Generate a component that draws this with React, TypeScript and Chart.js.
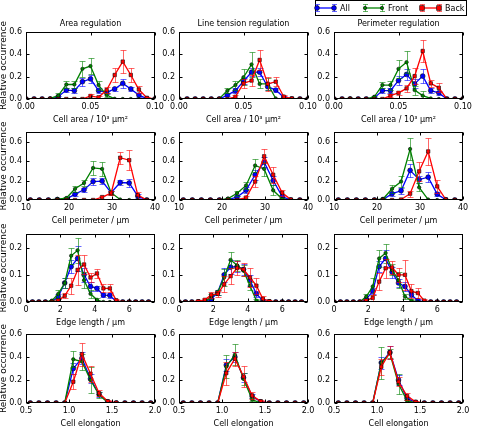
import React, { useEffect, useRef } from "react";
import { Chart, registerables } from "chart.js";

Chart.register(...registerables);

// ---- Bin positions of the histograms ----
const cellAreaBins = [0, 0.00625, 0.0125, 0.01875, 0.025, 0.03125, 0.0375, 0.04375, 0.05, 0.05625, 0.0625, 0.06875, 0.075, 0.08125, 0.0875, 0.09375, 0.1];
const cellPerimeterBins = [11.0, 13.1, 15.2, 17.3, 19.4, 21.4, 23.5, 25.6, 27.7, 29.8, 31.9, 34.0, 36.0, 38.1];
const edgeLengthBins = [0, 0.375, 0.75, 1.125, 1.5, 1.875, 2.25, 2.625, 3.0, 3.375, 3.75, 4.125, 4.5, 4.875, 5.25, 5.625, 6.0, 6.375, 6.75, 7.125];
const elongationBins = [0.55, 0.65, 0.75, 0.85, 0.95, 1.05, 1.15, 1.25, 1.35, 1.45, 1.55, 1.65, 1.75, 1.85, 1.95];

// ---- Cell area ----
const areaAreaRegAll = [0, 0, 0, 0, 0.02, 0.08, 0.075, 0.155, 0.18, 0.075, 0.06, 0.09, 0.14, 0.09, 0.035, 0.003, 0];
const areaAreaRegAllErr = [0, 0, 0, 0, 0.01, 0.02, 0.02, 0.035, 0.035, 0.02, 0.015, 0.02, 0.04, 0.02, 0.015, 0.003, 0];
const areaAreaRegFront = [0, 0, 0, 0.005, 0.03, 0.13, 0.13, 0.27, 0.295, 0.125, 0.035, 0.002, 0, 0, 0, 0, 0];
const areaAreaRegFrontErr = [0, 0, 0, 0.005, 0.02, 0.035, 0.03, 0.07, 0.075, 0.04, 0.02, 0.002, 0, 0, 0, 0, 0];
const areaAreaRegBack = [0, 0, 0, 0, 0, 0, 0, 0, 0.027, 0.015, 0.08, 0.215, 0.335, 0.215, 0.085, 0.01, 0];
const areaAreaRegBackErr = [0, 0, 0, 0, 0, 0, 0, 0, 0.015, 0.01, 0.025, 0.065, 0.1, 0.065, 0.03, 0.008, 0];

const areaTensionRegAll = [0, 0, 0, 0, 0, 0, 0.035, 0.075, 0.16, 0.24, 0.24, 0.11, 0.08, 0.015, 0, 0, 0];
const areaTensionRegAllErr = [0, 0, 0, 0, 0, 0, 0.01, 0.02, 0.03, 0.035, 0.035, 0.03, 0.02, 0.008, 0, 0, 0];
const areaTensionRegFront = [0, 0, 0, 0, 0, 0.003, 0.075, 0.125, 0.195, 0.31, 0.135, 0.135, 0.005, 0, 0, 0, 0];
const areaTensionRegFrontErr = [0, 0, 0, 0, 0, 0.003, 0.02, 0.04, 0.07, 0.11, 0.04, 0.05, 0.005, 0, 0, 0, 0];
const areaTensionRegBack = [0, 0, 0, 0, 0, 0, 0, 0.02, 0.14, 0.165, 0.35, 0.135, 0.155, 0.02, 0.005, 0, 0];
const areaTensionRegBackErr = [0, 0, 0, 0, 0, 0, 0, 0.02, 0.04, 0.05, 0.09, 0.06, 0.04, 0.015, 0.005, 0, 0];

const areaPerimRegAll = [0, 0, 0, 0, 0, 0.01, 0.075, 0.075, 0.165, 0.22, 0.135, 0.205, 0.075, 0.055, 0, 0, 0];
const areaPerimRegAllErr = [0, 0, 0, 0, 0, 0.005, 0.02, 0.02, 0.04, 0.05, 0.04, 0.06, 0.02, 0.02, 0, 0, 0];
const areaPerimRegFront = [0, 0, 0.005, 0, 0, 0.02, 0.125, 0.125, 0.27, 0.33, 0.08, 0.03, 0.005, 0, 0, 0, 0];
const areaPerimRegFrontErr = [0, 0, 0.005, 0, 0, 0.01, 0.03, 0.04, 0.08, 0.1, 0.04, 0.04, 0.005, 0, 0, 0, 0];
const areaPerimRegBack = [0, 0, 0, 0, 0, 0, 0, 0.03, 0.055, 0.095, 0.205, 0.43, 0.14, 0.1, 0, 0, 0];
const areaPerimRegBackErr = [0, 0, 0, 0, 0, 0, 0, 0.015, 0.02, 0.03, 0.07, 0.1, 0.03, 0.04, 0, 0, 0];

// ---- Cell perimeter ----
const perimAreaRegAll = [0, 0, 0, 0.005, 0.01, 0.06, 0.105, 0.19, 0.195, 0.075, 0.18, 0.175, 0.04, 0];
const perimAreaRegAllErr = [0, 0, 0, 0.005, 0.005, 0.015, 0.02, 0.035, 0.03, 0.02, 0.025, 0.04, 0.02, 0];
const perimAreaRegFront = [0, 0, 0, 0.01, 0.02, 0.115, 0.175, 0.33, 0.32, 0.075, 0.005, 0, 0, 0];
const perimAreaRegFrontErr = [0, 0, 0, 0.005, 0.01, 0.03, 0.03, 0.07, 0.075, 0.02, 0.005, 0, 0, 0];
const perimAreaRegBack = [0, 0, 0, 0, 0, 0, 0, 0, 0.03, 0.07, 0.435, 0.41, 0.05, 0];
const perimAreaRegBackErr = [0, 0, 0, 0, 0, 0, 0, 0, 0.015, 0.02, 0.06, 0.1, 0.035, 0];

const perimTensionRegAll = [0, 0, 0, 0, 0, 0.005, 0.03, 0.1, 0.26, 0.39, 0.2, 0.035, 0, 0];
const perimTensionRegAllErr = [0, 0, 0, 0, 0, 0.005, 0.01, 0.03, 0.05, 0.05, 0.05, 0.015, 0, 0];
const perimTensionRegFront = [0, 0, 0, 0, 0, 0.015, 0.07, 0.15, 0.355, 0.32, 0.1, 0.01, 0, 0];
const perimTensionRegFrontErr = [0, 0, 0, 0, 0, 0.01, 0.025, 0.04, 0.07, 0.07, 0.05, 0.01, 0, 0];
const perimTensionRegBack = [0, 0, 0, 0, 0, 0, 0, 0.025, 0.19, 0.45, 0.26, 0.075, 0.005, 0];
const perimTensionRegBackErr = [0, 0, 0, 0, 0, 0, 0, 0.015, 0.06, 0.07, 0.08, 0.03, 0.005, 0];

const perimPerimRegAll = [0, 0, 0, 0, 0, 0.005, 0.065, 0.095, 0.305, 0.21, 0.235, 0.06, 0.003, 0];
const perimPerimRegAllErr = [0, 0, 0, 0, 0, 0.005, 0.02, 0.03, 0.07, 0.04, 0.05, 0.02, 0.003, 0];
const perimPerimRegFront = [0, 0, 0, 0, 0.003, 0.01, 0.115, 0.19, 0.525, 0.13, 0.005, 0, 0, 0];
const perimPerimRegFrontErr = [0, 0, 0, 0, 0.003, 0.01, 0.04, 0.06, 0.11, 0.04, 0.005, 0, 0, 0];
const perimPerimRegBack = [0, 0, 0, 0, 0, 0, 0, 0.005, 0.065, 0.295, 0.5, 0.14, 0.005, 0];
const perimPerimRegBackErr = [0, 0, 0, 0, 0, 0, 0, 0.005, 0.03, 0.1, 0.14, 0.07, 0.005, 0];

// ---- Edge length ----
const edgeAreaRegAll = [0, 0, 0, 0, 0, 0.02, 0.07, 0.13, 0.16, 0.1, 0.057, 0.05, 0.025, 0.024, 0.002, 0, 0, 0, 0, 0];
const edgeAreaRegAllErr = [0, 0, 0, 0, 0, 0.01, 0.02, 0.025, 0.045, 0.025, 0.015, 0.01, 0.008, 0.008, 0.003, 0, 0, 0, 0, 0];
const edgeAreaRegFront = [0, 0, 0, 0, 0.005, 0.03, 0.07, 0.17, 0.19, 0.08, 0.03, 0.008, 0, 0, 0, 0, 0, 0, 0, 0];
const edgeAreaRegFrontErr = [0, 0, 0, 0, 0.003, 0.015, 0.02, 0.03, 0.045, 0.03, 0.015, 0.005, 0, 0, 0, 0, 0, 0, 0, 0];
const edgeAreaRegBack = [0, 0, 0, 0, 0, 0.005, 0.023, 0.06, 0.118, 0.138, 0.09, 0.105, 0.05, 0.05, 0.006, 0, 0, 0, 0, 0];
const edgeAreaRegBackErr = [0, 0, 0, 0, 0, 0.005, 0.01, 0.03, 0.055, 0.035, 0.015, 0.015, 0.015, 0.015, 0.005, 0, 0, 0, 0, 0];

const edgeTensionRegAll = [0, 0, 0, 0, 0.002, 0.01, 0.035, 0.1, 0.128, 0.13, 0.12, 0.08, 0.03, 0.005, 0, 0, 0, 0, 0, 0];
const edgeTensionRegAllErr = [0, 0, 0, 0, 0.002, 0.005, 0.01, 0.025, 0.025, 0.02, 0.02, 0.02, 0.01, 0.005, 0, 0, 0, 0, 0, 0];
const edgeTensionRegFront = [0, 0, 0, 0, 0, 0.02, 0.035, 0.09, 0.155, 0.135, 0.115, 0.06, 0.005, 0, 0, 0, 0, 0, 0, 0];
const edgeTensionRegFrontErr = [0, 0, 0, 0, 0, 0.01, 0.01, 0.03, 0.03, 0.02, 0.02, 0.015, 0.005, 0, 0, 0, 0, 0, 0, 0];
const edgeTensionRegBack = [0, 0, 0, 0.003, 0.008, 0.026, 0.03, 0.065, 0.095, 0.125, 0.12, 0.09, 0.06, 0.012, 0.003, 0, 0, 0, 0, 0];
const edgeTensionRegBackErr = [0, 0, 0, 0.003, 0.005, 0.01, 0.01, 0.03, 0.03, 0.025, 0.025, 0.035, 0.03, 0.01, 0.003, 0, 0, 0, 0, 0];

const edgePerimRegAll = [0, 0, 0, 0, 0, 0.01, 0.04, 0.13, 0.16, 0.11, 0.07, 0.057, 0.027, 0.005, 0, 0, 0, 0, 0, 0];
const edgePerimRegAllErr = [0, 0, 0, 0, 0, 0.005, 0.01, 0.02, 0.03, 0.02, 0.015, 0.015, 0.01, 0.005, 0, 0, 0, 0, 0, 0];
const edgePerimRegFront = [0, 0, 0, 0, 0, 0.02, 0.057, 0.16, 0.18, 0.118, 0.08, 0.02, 0.005, 0, 0, 0, 0, 0, 0, 0];
const edgePerimRegFrontErr = [0, 0, 0, 0, 0, 0.01, 0.03, 0.03, 0.035, 0.02, 0.03, 0.01, 0.005, 0, 0, 0, 0, 0, 0, 0];
const edgePerimRegBack = [0, 0, 0, 0, 0, 0.005, 0.015, 0.075, 0.124, 0.127, 0.1, 0.1, 0.04, 0.033, 0.005, 0, 0, 0, 0, 0];
const edgePerimRegBackErr = [0, 0, 0, 0, 0, 0.005, 0.01, 0.03, 0.035, 0.025, 0.025, 0.055, 0.025, 0.02, 0.005, 0, 0, 0, 0, 0];

// ---- Cell elongation ----
const elongAreaRegAll = [0, 0, 0, 0, 0, 0.3, 0.39, 0.21, 0.075, 0.01, 0, 0, 0, 0, 0];
const elongAreaRegAllErr = [0, 0, 0, 0, 0, 0.05, 0.05, 0.04, 0.02, 0.008, 0, 0, 0, 0, 0];
const elongAreaRegFront = [0, 0, 0, 0, 0, 0.38, 0.36, 0.2, 0.07, 0.005, 0, 0, 0, 0, 0];
const elongAreaRegFrontErr = [0, 0, 0, 0, 0, 0.07, 0.07, 0.11, 0.03, 0.005, 0, 0, 0, 0, 0];
const elongAreaRegBack = [0, 0, 0, 0, 0, 0.185, 0.425, 0.255, 0.085, 0.015, 0.003, 0, 0, 0, 0];
const elongAreaRegBackErr = [0, 0, 0, 0, 0, 0.065, 0.1, 0.07, 0.025, 0.01, 0.003, 0, 0, 0, 0];

const elongTensionRegAll = [0, 0, 0, 0, 0, 0.33, 0.4, 0.22, 0.06, 0.01, 0, 0, 0, 0, 0];
const elongTensionRegAllErr = [0, 0, 0, 0, 0, 0.05, 0.04, 0.04, 0.02, 0.005, 0, 0, 0, 0, 0];
const elongTensionRegFront = [0, 0, 0, 0, 0, 0.315, 0.42, 0.21, 0.03, 0, 0, 0, 0, 0, 0];
const elongTensionRegFrontErr = [0, 0, 0, 0, 0, 0.1, 0.09, 0.05, 0.015, 0, 0, 0, 0, 0, 0];
const elongTensionRegBack = [0, 0, 0, 0, 0, 0.26, 0.385, 0.23, 0.065, 0.015, 0, 0, 0, 0, 0];
const elongTensionRegBackErr = [0, 0, 0, 0, 0, 0.1, 0.06, 0.09, 0.03, 0.01, 0, 0, 0, 0, 0];

const elongPerimRegAll = [0, 0, 0, 0, 0, 0.35, 0.44, 0.2, 0.04, 0.005, 0, 0, 0, 0, 0];
const elongPerimRegAllErr = [0, 0, 0, 0, 0, 0.05, 0.06, 0.04, 0.015, 0.005, 0, 0, 0, 0, 0];
const elongPerimRegFront = [0, 0, 0, 0, 0, 0.35, 0.43, 0.165, 0.02, 0, 0, 0, 0, 0, 0];
const elongPerimRegFrontErr = [0, 0, 0, 0, 0, 0.14, 0.04, 0.09, 0.01, 0, 0, 0, 0, 0, 0];
const elongPerimRegBack = [0, 0, 0, 0, 0, 0.315, 0.44, 0.185, 0.06, 0.01, 0, 0, 0, 0, 0];
const elongPerimRegBackErr = [0, 0, 0, 0, 0, 0.07, 0.06, 0.04, 0.03, 0.005, 0, 0, 0, 0, 0];

// ---- Labels ----
const regulationTitles = ["Area regulation", "Line tension regulation", "Perimeter regulation"];
const quantityLabels = ["Cell area / 10³ μm²", "Cell perimeter / μm", "Edge length / μm", "Cell elongation"];
const yAxisLabel = "Relative occurrence";
const groupNames = ["All", "Front", "Back"];

// ---- Axis ranges per row ----
const xMins = [0, 10, 0, 0.5];
const xMaxs = [0.1, 40, 7.5, 2.0];
const xSteps = [0.05, 10, 2, 0.5];
const xDecimals = [2, 0, 0, 1];
const yMaxs = [0.6, 0.7, 0.25, 0.6];
const ySteps = [0.2, 0.2, 0.1, 0.2];

const rowBins = [cellAreaBins, cellPerimeterBins, edgeLengthBins, elongationBins];

// [row][col] -> [[values, errors] for All, Front, Back]
const panelSeries: number[][][][][] = [
  [
    [[areaAreaRegAll, areaAreaRegAllErr], [areaAreaRegFront, areaAreaRegFrontErr], [areaAreaRegBack, areaAreaRegBackErr]],
    [[areaTensionRegAll, areaTensionRegAllErr], [areaTensionRegFront, areaTensionRegFrontErr], [areaTensionRegBack, areaTensionRegBackErr]],
    [[areaPerimRegAll, areaPerimRegAllErr], [areaPerimRegFront, areaPerimRegFrontErr], [areaPerimRegBack, areaPerimRegBackErr]],
  ],
  [
    [[perimAreaRegAll, perimAreaRegAllErr], [perimAreaRegFront, perimAreaRegFrontErr], [perimAreaRegBack, perimAreaRegBackErr]],
    [[perimTensionRegAll, perimTensionRegAllErr], [perimTensionRegFront, perimTensionRegFrontErr], [perimTensionRegBack, perimTensionRegBackErr]],
    [[perimPerimRegAll, perimPerimRegAllErr], [perimPerimRegFront, perimPerimRegFrontErr], [perimPerimRegBack, perimPerimRegBackErr]],
  ],
  [
    [[edgeAreaRegAll, edgeAreaRegAllErr], [edgeAreaRegFront, edgeAreaRegFrontErr], [edgeAreaRegBack, edgeAreaRegBackErr]],
    [[edgeTensionRegAll, edgeTensionRegAllErr], [edgeTensionRegFront, edgeTensionRegFrontErr], [edgeTensionRegBack, edgeTensionRegBackErr]],
    [[edgePerimRegAll, edgePerimRegAllErr], [edgePerimRegFront, edgePerimRegFrontErr], [edgePerimRegBack, edgePerimRegBackErr]],
  ],
  [
    [[elongAreaRegAll, elongAreaRegAllErr], [elongAreaRegFront, elongAreaRegFrontErr], [elongAreaRegBack, elongAreaRegBackErr]],
    [[elongTensionRegAll, elongTensionRegAllErr], [elongTensionRegFront, elongTensionRegFrontErr], [elongTensionRegBack, elongTensionRegBackErr]],
    [[elongPerimRegAll, elongPerimRegAllErr], [elongPerimRegFront, elongPerimRegFrontErr], [elongPerimRegBack, elongPerimRegBackErr]],
  ],
];

// ---- Styling ----
const FONT = "'DejaVu Sans', 'Liberation Sans', sans-serif";
const groupColors = ["#0000ff", "#008000", "#ff0000"];
const groupErrorColors = ["rgba(0,0,255,0.6)", "rgba(0,128,0,0.6)", "rgba(255,0,0,0.6)"];
const groupMarkers = ["circle", "circle", "rect"];
const groupMarkerRadius = [2.4, 1.7, 2.4];

// Layout of the grid (page pixels)
const plotLefts = [26, 179, 334];
const plotTops = [32, 132, 234, 334];
const plotHeights = [67, 68, 68, 69];
const PLOT_W = 129;
const TITLE_H = 13;
const XAXIS_H = 26;
const RIGHT_PAD = 12;
const yAxisWidths = [26, 24, 24];

Chart.defaults.font.family = FONT;
Chart.defaults.font.size = 8;
Chart.defaults.color = "#000";

// Vertical error bars with caps, drawn through the chart's own y scale
const errorBarPlugin = {
  id: "errorBars",
  afterDatasetDraw(chart: any, args: any) {
    const ds = chart.data.datasets[args.index];
    const errs: number[] | undefined = ds.errors;
    if (!errs) return;
    const ys = chart.scales.y;
    const a = chart.chartArea;
    const ctx = chart.ctx;
    ctx.save();
    ctx.beginPath();
    ctx.rect(a.left, a.top, a.right - a.left, a.bottom - a.top);
    ctx.clip();
    ctx.strokeStyle = ds.errorColor;
    ctx.lineWidth = 1;
    ctx.beginPath();
    args.meta.data.forEach((pt: any, k: number) => {
      const e = errs[k];
      if (!e) return;
      const v = ds.data[k].y;
      const cx = Math.round(pt.x) + 0.5;
      const lo = Math.round(ys.getPixelForValue(v - e)) + 0.5;
      const hi = Math.round(ys.getPixelForValue(v + e)) + 0.5;
      ctx.moveTo(cx, lo);
      ctx.lineTo(cx, hi);
      ctx.moveTo(cx - 3, lo);
      ctx.lineTo(cx + 3, lo);
      ctx.moveTo(cx - 3, hi);
      ctx.lineTo(cx + 3, hi);
    });
    ctx.stroke();
    ctx.restore();
  },
};

// Box frame with inward ticks on all four sides
const framePlugin = {
  id: "frame",
  afterDatasetsDraw(chart: any) {
    const { ctx, chartArea: a, scales } = chart;
    const l = Math.round(a.left) + 0.5;
    const r = Math.round(a.right) - 0.5;
    const t = Math.round(a.top) + 0.5;
    const b = Math.round(a.bottom) - 0.5;
    ctx.save();
    ctx.strokeStyle = "#000";
    ctx.lineWidth = 1;
    ctx.strokeRect(l, t, r - l, b - t);
    ctx.beginPath();
    scales.x.ticks.forEach((tk: any) => {
      const px = Math.round(scales.x.getPixelForValue(tk.value)) + 0.5;
      ctx.moveTo(px, b);
      ctx.lineTo(px, b - 3);
      ctx.moveTo(px, t);
      ctx.lineTo(px, t + 3);
    });
    scales.y.ticks.forEach((tk: any) => {
      const py = Math.round(scales.y.getPixelForValue(tk.value)) + 0.5;
      ctx.moveTo(l, py);
      ctx.lineTo(l + 3, py);
      ctx.moveTo(r, py);
      ctx.lineTo(r - 3, py);
    });
    ctx.stroke();
    ctx.restore();
  },
};

// Panel heading centred over the plotting area
function makeTitlePlugin(text: string) {
  return {
    id: "panelTitle",
    afterDraw(chart: any) {
      const { ctx, chartArea: a } = chart;
      ctx.save();
      ctx.fillStyle = "#000";
      ctx.font = `8px ${FONT}`;
      ctx.textAlign = "center";
      ctx.textBaseline = "middle";
      ctx.fillText(text, (a.left + a.right) / 2, a.top - 8);
      ctx.restore();
    },
  };
}

// Framed legend above the top-right panel
const legendItemX = [7, 55, 112];
const LEGEND_LINE = 17;
const legendPlugin = {
  id: "groupLegend",
  afterDraw(chart: any) {
    const ctx = chart.ctx;
    const boxLeft = 5.5;
    const boxRight = chart.chartArea.right + 3.5;
    const cy = 8;
    ctx.save();
    ctx.fillStyle = "#fff";
    ctx.fillRect(boxLeft, 0.5, boxRight - boxLeft, 15);
    ctx.strokeStyle = "#000";
    ctx.lineWidth = 1;
    ctx.strokeRect(boxLeft, 0.5, boxRight - boxLeft, 15);
    groupNames.forEach((name, i) => {
      const x0 = legendItemX[i];
      const x1 = x0 + LEGEND_LINE;
      ctx.strokeStyle = groupColors[i];
      ctx.lineWidth = 1.3;
      ctx.beginPath();
      ctx.moveTo(x0, cy);
      ctx.lineTo(x1, cy);
      ctx.stroke();
      ctx.strokeStyle = groupErrorColors[i];
      ctx.lineWidth = 1;
      ctx.beginPath();
      [x0, x1].forEach((x) => {
        const cx = Math.round(x) + 0.5;
        ctx.moveTo(cx, cy - 3.5);
        ctx.lineTo(cx, cy + 3.5);
        ctx.moveTo(cx - 2.5, cy - 3.5);
        ctx.lineTo(cx + 2.5, cy - 3.5);
        ctx.moveTo(cx - 2.5, cy + 3.5);
        ctx.lineTo(cx + 2.5, cy + 3.5);
      });
      ctx.stroke();
      ctx.fillStyle = groupColors[i];
      ctx.strokeStyle = "#000";
      ctx.lineWidth = 0.6;
      [x0, x1].forEach((x) => {
        const rr = groupMarkerRadius[i];
        ctx.beginPath();
        if (groupMarkers[i] === "rect") ctx.rect(x - rr, cy - rr, rr * 2, rr * 2);
        else ctx.arc(x, cy, rr, 0, Math.PI * 2);
        ctx.fill();
        ctx.stroke();
      });
      ctx.fillStyle = "#000";
      ctx.font = `8px ${FONT}`;
      ctx.textBaseline = "middle";
      ctx.textAlign = "left";
      ctx.fillText(name, x1 + 6, cy + 0.5);
    });
    ctx.restore();
  },
};

function buildConfig(row: number, col: number, padTop: number): any {
  const bins = rowBins[row];
  const series = panelSeries[row][col];
  const datasets = series.map(([vals, errs], i) => ({
    label: groupNames[i],
    data: bins.map((x, k) => ({ x, y: vals[k] })),
    errors: errs,
    errorColor: groupErrorColors[i],
    borderColor: groupColors[i],
    backgroundColor: groupColors[i],
    borderWidth: 1.3,
    pointStyle: groupMarkers[i],
    pointRadius: groupMarkerRadius[i],
    pointBackgroundColor: groupColors[i],
    pointBorderColor: "#000",
    pointBorderWidth: 0.6,
    tension: 0,
    order: 3 - i,
  }));
  const xDec = xDecimals[row];
  const plugins: any[] = [errorBarPlugin, framePlugin];
  if (row === 0) plugins.push(makeTitlePlugin(regulationTitles[col]));
  if (row === 0 && col === 2) plugins.push(legendPlugin);
  return {
    type: "line",
    data: { datasets },
    plugins,
    options: {
      animation: false,
      responsive: false,
      events: [],
      layout: { padding: { top: padTop, right: RIGHT_PAD, left: 0, bottom: 0 } },
      plugins: {
        legend: { display: false },
        tooltip: { enabled: false },
        title: { display: false },
      },
      scales: {
        x: {
          type: "linear",
          min: xMins[row],
          max: xMaxs[row],
          grid: { display: false, drawTicks: false },
          border: { display: false },
          ticks: {
            stepSize: xSteps[row],
            includeBounds: false,
            autoSkip: false,
            maxRotation: 0,
            padding: 3,
            color: "#000",
            font: { size: 8, family: FONT },
            callback: (v: any) => Number(v).toFixed(xDec),
          },
          title: {
            display: true,
            text: quantityLabels[row],
            color: "#000",
            font: { size: 8, family: FONT },
            padding: { top: 0, bottom: 0 },
          },
          afterFit: (s: any) => {
            s.height = XAXIS_H;
          },
        },
        y: {
          type: "linear",
          min: 0,
          max: yMaxs[row],
          grid: { display: false, drawTicks: false },
          border: { display: false },
          ticks: {
            stepSize: ySteps[row],
            includeBounds: false,
            autoSkip: false,
            padding: 4,
            color: "#000",
            font: { size: 8, family: FONT },
            callback: (v: any) => Number(v).toFixed(1),
          },
          title: {
            display: col === 0,
            text: yAxisLabel,
            color: "#000",
            font: { size: 9, family: FONT },
            padding: { top: -1.5, bottom: 0 },
          },
          afterFit: (s: any) => {
            s.width = yAxisWidths[col];
          },
        },
      },
    },
  };
}

function Panel({ row, col }: { row: number; col: number }) {
  const ref = useRef<HTMLCanvasElement>(null);
  const extraTop = row === 0 && col === 2 ? plotTops[0] - TITLE_H : 0;
  const padTop = extraTop + TITLE_H;
  const width = yAxisWidths[col] + PLOT_W + RIGHT_PAD;
  const height = padTop + plotHeights[row] + XAXIS_H;
  const left = plotLefts[col] - yAxisWidths[col];
  const top = plotTops[row] - padTop;

  useEffect(() => {
    const chart = new Chart(ref.current as HTMLCanvasElement, buildConfig(row, col, padTop));
    return () => chart.destroy();
  }, [row, col]);

  return (
    <canvas
      ref={ref}
      width={width}
      height={height}
      style={{ position: "absolute", left, top, width, height, display: "block" }}
    />
  );
}

export default function App() {
  const cells: React.ReactNode[] = [];
  for (let r = 0; r < 4; r++) {
    for (let c = 0; c < 3; c++) {
      cells.push(<Panel key={`${r}-${c}`} row={r} col={c} />);
    }
  }
  return (
    <div
      style={{
        position: "absolute",
        left: 0,
        top: 0,
        width: 477,
        height: 428,
        background: "#fff",
        overflow: "hidden",
      }}
    >
      {cells}
    </div>
  );
}
